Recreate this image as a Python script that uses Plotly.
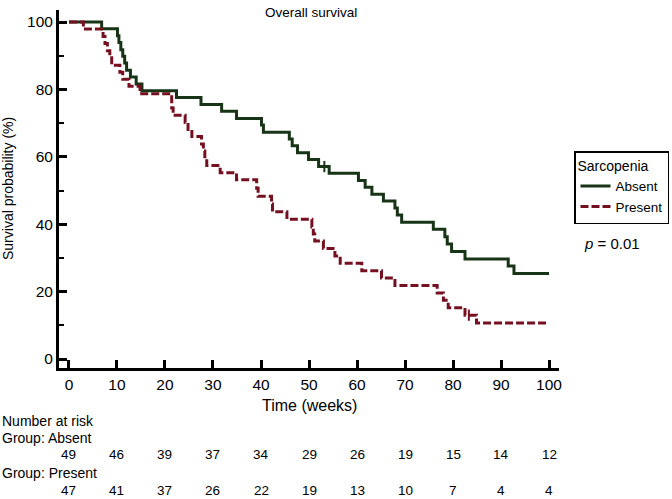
import plotly.graph_objects as go

# ---- data ----
absent_t = [0, 6.8, 10.1, 10.4, 10.8, 11.2, 11.6, 12.0, 12.8, 14.0, 15.2, 22.4, 27.5, 31.8, 34.9,
            40.1, 40.5, 45.9, 46.5, 47.6, 49.9, 52.0, 54.2, 60.3, 61.7, 63.1, 65.5, 67.9, 68.4,
            69.3, 75.9, 78.3, 78.8, 79.7, 82.5, 91.5, 92.7, 100]
absent_s = [100, 98.0, 95.9, 93.9, 91.8, 89.8, 87.8, 85.7, 83.7, 81.6, 79.6, 77.6, 75.5, 73.5, 71.4,
            69.4, 67.3, 65.3, 63.3, 61.2, 59.2, 57.1, 55.1, 53.0, 51.0, 48.9, 46.9, 44.8, 42.7,
            40.6, 38.5, 36.3, 34.1, 31.9, 29.7, 27.6, 25.4, 25.4]

present_t = [0, 3.0, 7.1, 7.5, 8.0, 8.5, 8.9, 10.6, 11.2, 12.5, 14.8, 21.4, 21.7, 24.2, 24.8, 25.6,
             27.6, 28.0, 28.3, 28.7, 31.5, 34.9, 39.1, 39.4, 42.2, 42.4, 45.4, 50.6, 50.9, 51.2,
             53.0, 55.4, 56.5, 61.0, 65.1, 67.9, 76.7, 78.0, 79.0, 82.5, 84.9, 100]
present_s = [100, 97.9, 95.7, 93.6, 91.5, 89.4, 87.2, 85.1, 83.0, 80.9, 78.7, 74.5, 72.3, 70.2, 68.1, 66.0,
             63.8, 61.7, 59.6, 57.4, 55.3, 53.2, 50.7, 48.3, 46.0, 43.7, 41.5, 39.2, 37.1, 35.0,
             32.8, 30.6, 28.4, 26.2, 24.0, 21.8, 19.6, 17.4, 15.2, 13.0, 10.7, 10.7]

absent_cens_t = [53.2]
absent_cens_s = [57.1]
present_cens_t = [83.3]
present_cens_s = [13.0]

risk_times = [0, 10, 20, 30, 40, 50, 60, 70, 80, 90, 100]
risk_absent = [49, 46, 39, 37, 34, 29, 26, 19, 15, 14, 12]
risk_present = [47, 41, 37, 26, 22, 19, 13, 10, 7, 4, 4]

GREEN = "#173417"
RED = "#751020"
FONT = "Liberation Sans, Arial, sans-serif"

fig = go.Figure()
fig.add_trace(go.Scatter(x=absent_t, y=absent_s, mode="lines", line_shape="hv",
                         line=dict(color=GREEN, width=3), name="Absent"))
fig.add_trace(go.Scatter(x=present_t, y=present_s, mode="lines", line_shape="hv",
                         line=dict(color=RED, width=3, dash="8px,3px"), name="Present"))
fig.add_trace(go.Scatter(x=absent_cens_t, y=absent_cens_s, mode="markers", showlegend=False,
                         marker=dict(symbol="line-ns", size=8, line=dict(color=GREEN, width=2))))
fig.add_trace(go.Scatter(x=present_cens_t, y=present_cens_s, mode="markers", showlegend=False,
                         marker=dict(symbol="line-ns", size=8, line=dict(color=RED, width=2))))

ann = []
ann.append(dict(text="Overall survival", x=0.503, y=0.994, xref="paper", yref="paper",
                showarrow=False, font=dict(size=13.5, color="black"), xanchor="center", yanchor="middle"))
ann.append(dict(text="Time (weeks)", x=0.5, y=-0.106, xref="paper", yref="paper",
                showarrow=False, font=dict(size=16, color="black"), xanchor="center", yanchor="middle"))
ann.append(dict(text="Survival probability (%)", x=-0.102, y=0.5, xref="paper", yref="paper",
                textangle=-90, showarrow=False, font=dict(size=14, color="black"),
                xanchor="center", yanchor="middle"))
ann.append(dict(text="<i>p</i> = 0.01", x=1.105, y=0.349, xref="paper", yref="paper",
                showarrow=False, font=dict(size=15, color="black"), xanchor="center", yanchor="middle"))
for txt, yy in [("Number at risk", -0.148), ("Group: Absent", -0.195), ("Group: Present", -0.292)]:
    ann.append(dict(text=txt, x=-0.118, y=yy, xref="paper", yref="paper", showarrow=False,
                    font=dict(size=14, color="black"), xanchor="left", yanchor="middle"))
for t, n in zip(risk_times, risk_absent):
    ann.append(dict(text=str(n), x=t, y=-0.243, xref="x", yref="paper", showarrow=False,
                    font=dict(size=13.5, color="black"), xanchor="center", yanchor="middle"))
for t, n in zip(risk_times, risk_present):
    ann.append(dict(text=str(n), x=t, y=-0.343, xref="x", yref="paper", showarrow=False,
                    font=dict(size=13.5, color="black"), xanchor="center", yanchor="middle"))

fig.update_layout(
    width=672, height=499,
    margin=dict(l=59, r=113, t=10, b=131, autoexpand=False),
    paper_bgcolor="white", plot_bgcolor="white",
    font=dict(family=FONT, color="black"),
    annotations=ann,
    legend=dict(x=1.030, y=0.606, xanchor="left", yanchor="top",
                title=dict(text="Sarcopenia", font=dict(size=14)),
                font=dict(size=13.5), bordercolor="black", borderwidth=1.5,
                bgcolor="white", itemwidth=30, tracegroupgap=0),
    xaxis=dict(range=[-2.08, 102.08], tickvals=risk_times, ticks="inside", ticklen=8, tickwidth=3,
               tickcolor="black", showline=True, linewidth=3, linecolor="black",
               showgrid=False, zeroline=False, tickfont=dict(size=15.5), automargin=False),
    yaxis=dict(range=[-2.67, 103.56], tickvals=[0, 20, 40, 60, 80, 100], ticks="inside", ticklen=8,
               tickwidth=3, tickcolor="black", showline=True, linewidth=3, linecolor="black",
               showgrid=False, zeroline=False, tickfont=dict(size=15.5), automargin=False,
               minor=dict(tickvals=[10, 30, 50, 70, 90], ticks="inside", ticklen=5, tickwidth=2,
                          tickcolor="black", showgrid=False)),
)

fig.write_html("out.html", config={"displayModeBar": False},
               post_script="document.body.style.margin='0';document.body.style.padding='0';")
